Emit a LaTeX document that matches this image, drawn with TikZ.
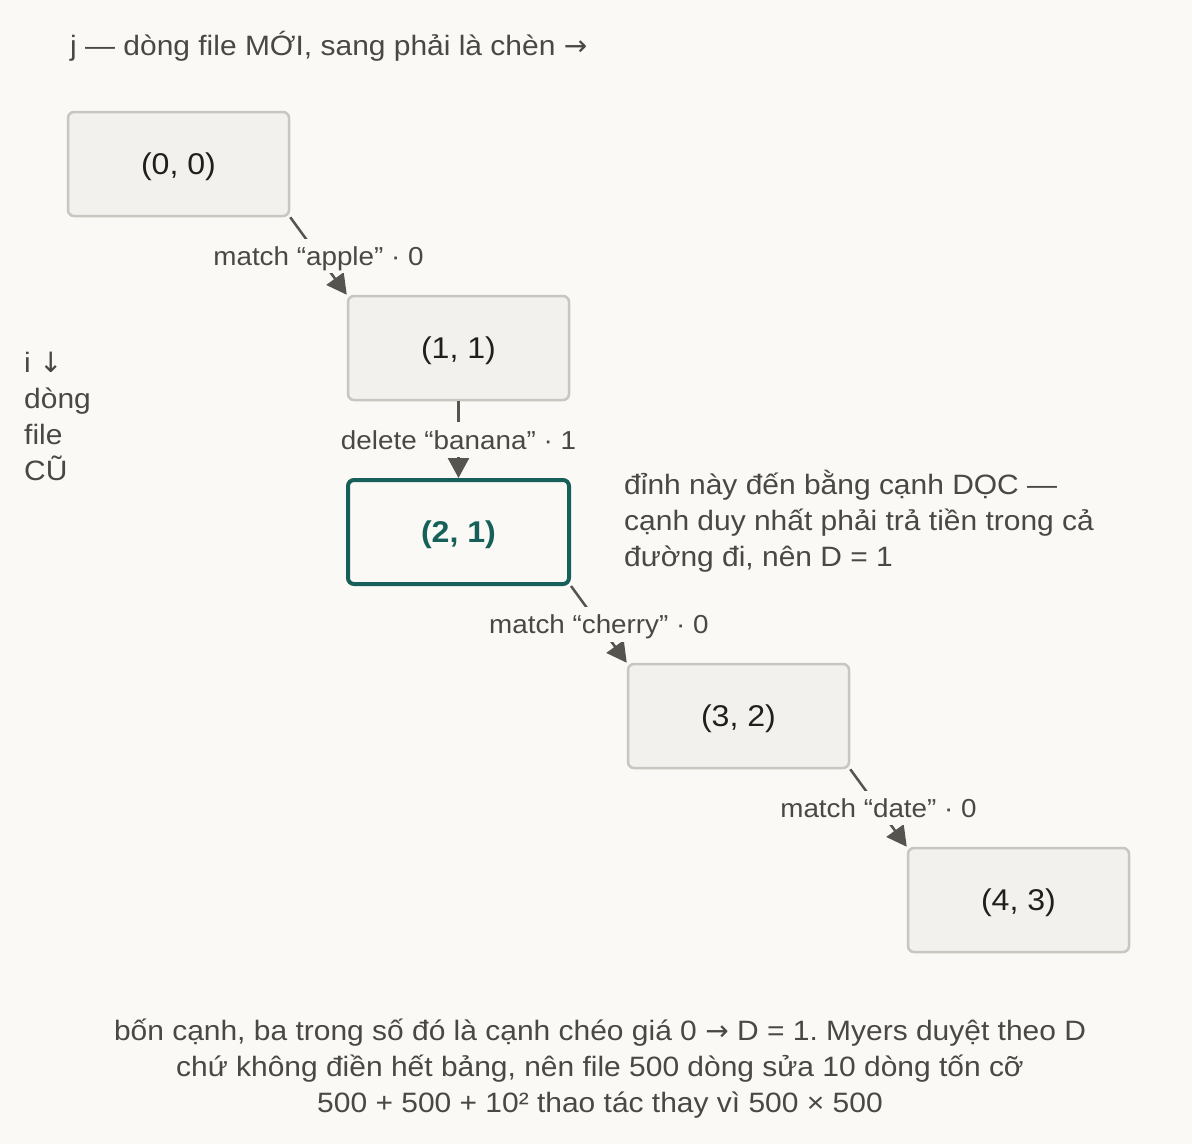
\documentclass[tikz,border=0pt]{standalone}
\usepackage{fontspec}
\setmainfont{Liberation Sans}[FakeStretch=1.07]
\newfontfamily\arrowfont{DejaVu Sans}
\usetikzlibrary{arrows.meta}
\frenchspacing

\definecolor{canvas}{HTML}{FAF9F6}
\definecolor{boxfill}{HTML}{F2F1EE}
\definecolor{boxline}{HTML}{C9C6BF}
\definecolor{ink}{HTML}{1F1F1D}
\definecolor{note}{HTML}{4A4843}
\definecolor{wire}{HTML}{55544F}
\definecolor{pathteal}{HTML}{17605A}

\begin{document}
\begin{tikzpicture}[x=1pt, y=-1pt,
    state/.style ={rectangle, rounded corners=6pt, draw=boxline, fill=boxfill, line width=2.5pt,
      minimum width=221pt, minimum height=104pt, text depth=0pt, text=ink,
      font=\fontsize{30}{36}\selectfont},
    current/.style ={state, draw=pathteal, fill=canvas, line width=4pt, text=pathteal,
      font=\bfseries\fontsize{30}{36}\selectfont},
    move/.style ={draw=wire, line width=2.5pt, -{Triangle[length=20pt,width=21pt]}},
    cost/.style ={fill=canvas, inner xsep=5pt, inner ysep=8pt, text depth=0pt, text=note,
      font=\fontsize{26}{32}\selectfont},
    remark/.style ={text=note, inner sep=0pt, font=\fontsize{28}{36}\selectfont}]

   \fill[canvas] (0,0) rectangle (1192,1144);
   \useasboundingbox (0,0) rectangle (1192,1144);

   % axes
   \node[remark, anchor=west] (axisj) at (70,46) {j — dòng file MỚI, sang phải là chèn {\arrowfont →}};
   \node[remark, anchor=west, align=left] (axisi) at (24,416) {i {\arrowfont ↓}\\dòng\\file\\CŨ};

   % edit graph path
   \node[state] (n00) at (178.5,164) {(0, 0)};
   \node[state] (n11) at (458.5,348) {(1, 1)};
   \node[current] (n21) at (458.5,532) {(2, 1)};
   \node[state] (n32) at (738.5,716) {(3, 2)};
   \node[state] (n43) at (1018.5,900) {(4, 3)};

   \draw[move] (n00.south east) to node[cost] {match “apple” · 0} (n11.north west);
   \draw[move] (n11.south) to node[cost] {delete “banana” · 1} (n21.north);
   \draw[move] (n21.south east) to node[cost] {match “cherry” · 0} (n32.north west);
   \draw[move] (n32.south east) to node[cost] {match “date” · 0} (n43.north west);

   % notes
   \node[remark, anchor=west, align=left] (why) at (624,521)
     {đỉnh này đến bằng cạnh DỌC —\\cạnh duy nhất phải trả tiền trong cả\\đường đi, nên D = 1};
   \node[remark, align=center] (sum) at (600,1069)
     {bốn cạnh, ba trong số đó là cạnh chéo giá 0 {\arrowfont →} D = 1. Myers duyệt theo D\\chứ không điền hết bảng, nên file 500 dòng sửa 10 dòng tốn cỡ\\500 + 500 + 10² thao tác thay vì 500 × 500};

 \end{tikzpicture}
\end{document}
